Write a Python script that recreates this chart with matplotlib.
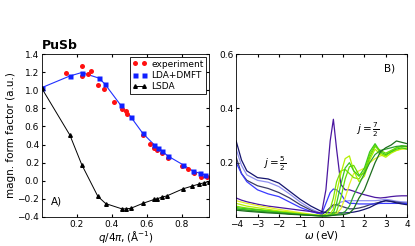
import matplotlib
matplotlib.use("Agg")
import matplotlib.pyplot as plt

# panel A: magnetic form factor of PuSb
q_exp = [0.139, 0.227, 0.227, 0.266, 0.28, 0.32, 0.358, 0.415, 0.457, 0.48, 0.485,
         0.577, 0.619, 0.644, 0.66, 0.686, 0.72, 0.80, 0.838, 0.87, 0.91, 0.943]
f_exp = [1.194, 1.268, 1.157, 1.18, 1.216, 1.058, 1.01, 0.873, 0.79, 0.77, 0.735,
         0.505, 0.405, 0.365, 0.34, 0.31, 0.25, 0.16, 0.13, 0.09, 0.04, 0.04]

q_dmft = [0.0, 0.158, 0.227, 0.326, 0.36, 0.451, 0.509, 0.577, 0.644, 0.663,
          0.686, 0.72, 0.809, 0.866, 0.905, 0.935]
f_dmft = [1.03, 1.157, 1.196, 1.135, 1.07, 0.835, 0.705, 0.525, 0.395, 0.365,
          0.33, 0.275, 0.175, 0.105, 0.083, 0.064]

q_lsda = [0.0, 0.16, 0.228, 0.32, 0.365, 0.457, 0.482, 0.509, 0.577, 0.644, 0.66,
          0.686, 0.714, 0.806, 0.86, 0.90, 0.93, 0.957]
f_lsda = [1.02, 0.505, 0.178, -0.172, -0.252, -0.31, -0.31, -0.304, -0.25, -0.205, -0.2,
          -0.18, -0.168, -0.09, -0.058, -0.036, -0.021, -0.01]

# panel B: spectral functions
w = [-4, -3.75, -3.5, -3, -2.5, -2, -1.5, -1, -0.5, 0, 0.2, 0.4, 0.55, 0.7, 0.9, 1.1,
     1.3, 1.5, 1.75, 2, 2.25, 2.5, 2.75, 3, 3.25, 3.5, 3.75, 4]

j52 = {
    "#9090f0": [0.25, 0.19, 0.155, 0.135, 0.128, 0.112, 0.085, 0.055, 0.03, 0.012,
                0.02, 0.03, 0.04, 0.045, 0.055, 0.058, 0.06, 0.06, 0.06, 0.06, 0.06, 0.06, 0.062, 0.065, 0.062, 0.058, 0.056, 0.055],
    "#3a3a66": [0.22, 0.16, 0.135, 0.115, 0.105, 0.09, 0.07, 0.045, 0.025, 0.008,
                0.02, 0.035, 0.045, 0.045, 0.04, 0.035, 0.03, 0.03, 0.033, 0.038, 0.045, 0.05, 0.055, 0.06, 0.058, 0.055, 0.052, 0.05],
    "#3a3aff": [0.2, 0.16, 0.13, 0.1, 0.085, 0.075, 0.055, 0.035, 0.02, 0.01,
                0.05, 0.09, 0.103, 0.1, 0.085, 0.06, 0.05, 0.05, 0.048, 0.048, 0.048, 0.048, 0.05, 0.05, 0.05, 0.05, 0.05, 0.05],
    "#4b17a0": [0.07, 0.062, 0.056, 0.047, 0.04, 0.035, 0.03, 0.025, 0.02, 0.015,
                0.1, 0.28, 0.36, 0.25, 0.12, 0.1, 0.1, 0.095, 0.088, 0.082, 0.077, 0.072, 0.07, 0.072, 0.075, 0.077, 0.078, 0.078],
    "#14146e": [0.28, 0.21, 0.17, 0.145, 0.14, 0.125, 0.095, 0.065, 0.04, 0.02,
                0.016, 0.015, 0.015, 0.015, 0.015, 0.015, 0.016, 0.018, 0.022, 0.028, 0.035, 0.045, 0.055, 0.06, 0.057, 0.052, 0.048, 0.045],
}

j72 = {
    "#e6f028": [0.06, 0.055, 0.05, 0.042, 0.035, 0.028, 0.022, 0.016, 0.01, 0.006,
                0.005, 0.006, 0.008, 0.012, 0.03, 0.07, 0.12, 0.16, 0.17, 0.18, 0.2, 0.215, 0.225, 0.23, 0.24, 0.245, 0.25, 0.25],
    "#7ee000": [0.04, 0.036, 0.033, 0.028, 0.024, 0.02, 0.016, 0.012, 0.008, 0.005,
                0.01, 0.03, 0.07, 0.13, 0.17, 0.175, 0.16, 0.145, 0.14, 0.17, 0.23, 0.265, 0.235, 0.225, 0.24, 0.255, 0.262, 0.26],
    "#b4f000": [0.05, 0.045, 0.04, 0.034, 0.028, 0.022, 0.018, 0.013, 0.009, 0.005,
                0.006, 0.01, 0.03, 0.09, 0.16, 0.215, 0.225, 0.17, 0.13, 0.15, 0.21, 0.25, 0.23, 0.22, 0.235, 0.245, 0.252, 0.255],
    "#3cc81e": [0.035, 0.032, 0.03, 0.026, 0.022, 0.018, 0.014, 0.01, 0.007, 0.004,
                0.005, 0.008, 0.015, 0.05, 0.12, 0.18, 0.2, 0.17, 0.15, 0.18, 0.24, 0.27, 0.24, 0.23, 0.24, 0.25, 0.255, 0.25],
    "#64dc00": [0.03, 0.028, 0.026, 0.022, 0.019, 0.016, 0.012, 0.009, 0.006, 0.004,
                0.004, 0.006, 0.01, 0.02, 0.07, 0.14, 0.185, 0.19, 0.155, 0.16, 0.22, 0.26, 0.245, 0.235, 0.245, 0.255, 0.26, 0.26],
    "#2ea02e": [0.03, 0.027, 0.025, 0.021, 0.018, 0.015, 0.012, 0.009, 0.006, 0.004,
                0.004, 0.005, 0.007, 0.009, 0.012, 0.02, 0.04, 0.08, 0.12, 0.16, 0.2, 0.23, 0.245, 0.25, 0.255, 0.26, 0.262, 0.26],
    "#1d6e1d": [0.025, 0.023, 0.021, 0.018, 0.015, 0.013, 0.01, 0.008, 0.006, 0.004,
                0.004, 0.005, 0.006, 0.007, 0.008, 0.01, 0.014, 0.03, 0.07, 0.1, 0.15, 0.2, 0.24, 0.255, 0.265, 0.28, 0.275, 0.27],
}

plt.rcParams["xtick.direction"] = "in"
plt.rcParams["ytick.direction"] = "in"
plt.rcParams["xtick.top"] = True
plt.rcParams["ytick.right"] = True
plt.rcParams["xtick.labelsize"] = 6.5
plt.rcParams["ytick.labelsize"] = 6.5
plt.rcParams["xtick.major.size"] = 2.5
plt.rcParams["ytick.major.size"] = 2.5
plt.rcParams["xtick.major.pad"] = 2
plt.rcParams["ytick.major.pad"] = 2
plt.rcParams["axes.linewidth"] = 0.6

fig = plt.figure(figsize=(4.15, 2.46), dpi=100)

ax = fig.add_axes([0.101, 0.118, 0.403, 0.662])
ax.plot(q_dmft, f_dmft, '-', color='#2030ff', lw=0.8)
ax.plot(q_exp, f_exp, 'o', color='#ff1010', ms=3.6, mec='none', label='experiment')
ax.plot(q_dmft, f_dmft, 's', color='#1020ff', ms=3.6, mec='none', label='LDA+DMFT')
ax.plot(q_lsda, f_lsda, '-^', color='black', lw=0.7, ms=2.6, label='LSDA')
ax.set_xlim(0, 0.957)
ax.set_ylim(-0.4, 1.4)
ax.set_xticks([0.2, 0.4, 0.6, 0.8])
ax.set_yticks([-0.4, -0.2, 0.0, 0.2, 0.4, 0.6, 0.8, 1.0, 1.2, 1.4])
ax.set_xlabel(r'$q/4\pi,(\mathrm{\AA}^{-1})$', fontsize=7.5, labelpad=0)
ax.set_ylabel('magn. form factor (a.u.)', fontsize=7.5, labelpad=1)
ax.set_title('PuSb', fontsize=9, fontweight='bold', loc='left', pad=4)
ax.text(0.05, -0.26, 'A)', fontsize=7.5)
leg = ax.legend(loc='upper right', numpoints=2, fontsize=6.5, handlelength=1.6,
                borderaxespad=0.3, fancybox=False, framealpha=1, borderpad=0.3,
                labelspacing=0.25, handletextpad=0.5)
leg.get_frame().set_edgecolor('black')
leg.get_frame().set_linewidth(0.6)

bx = fig.add_axes([0.569, 0.118, 0.412, 0.662])
for c, y in j52.items():
    bx.plot(w, y, color=c, lw=0.9)
for c, y in j72.items():
    bx.plot(w, y, color=c, lw=0.9)
bx.set_xlim(-4, 4)
bx.set_ylim(0, 0.6)
bx.set_xticks([-4, -3, -2, -1, 0, 1, 2, 3, 4])
bx.set_yticks([0.2, 0.4, 0.6])
bx.set_xlabel(r'$\omega$ (eV)', fontsize=7.5, labelpad=0)
bx.text(-2.75, 0.185, r'$j=\frac{5}{2}$', fontsize=7.5)
bx.text(1.6, 0.31, r'$j=\frac{7}{2}$', fontsize=7.5)
bx.text(3.2, 0.535, 'B)', fontsize=7.5, ha='center')

fig.savefig('out.png', dpi=100)
